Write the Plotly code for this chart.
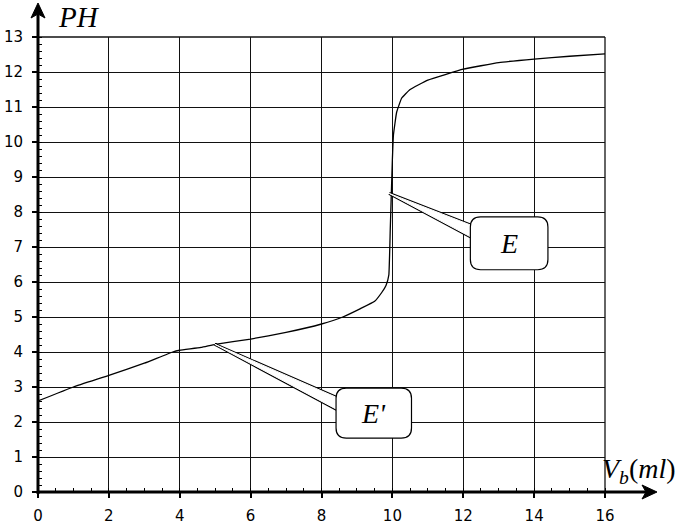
import plotly.graph_objects as go

# ---- data ----
vb = [0, 1, 2, 3, 3.8, 4.0, 4.6, 5, 6, 7, 8, 8.6, 9.1, 9.5, 9.7, 9.82, 9.9,
      9.94, 9.97, 10.0, 10.03, 10.12, 10.26, 10.5, 11.0, 12.0, 13.0, 14.0, 15.0, 16.0]
ph = [2.6, 3.0, 3.33, 3.68, 4.0, 4.05, 4.13, 4.22, 4.37, 4.56, 4.8, 5.0, 5.24, 5.45, 5.7,
      5.9, 6.2, 7.5, 8.5, 9.5, 10.2, 10.85, 11.25, 11.5, 11.77, 12.08, 12.27, 12.37, 12.45, 12.52]
x_ticks = [0, 2, 4, 6, 8, 10, 12, 14, 16]
y_ticks = list(range(0, 14))

# callouts: (label, tip, base1, base2, box x0, x1, y0, y1)
callouts = [
    ("E", (9.91, 8.53), (12.28, 7.6), (12.28, 7.25), 12.24, 14.35, 6.39, 7.82),
    ("E'", (4.99, 4.22), (8.43, 2.70), (8.43, 2.36), 8.45, 10.5, 1.58, 2.93),
]

L, R, T, B = 38, 87, 37, 36
W, H = 692, 528
pw, ph_px = W - L - R, H - T - B

fig = go.Figure()
fig.add_trace(go.Scatter(x=vb, y=ph, mode="lines", line_shape="spline",
                         line=dict(color="black", width=1.3, smoothing=0.3), hoverinfo="skip"))

shapes = []
annotations = []

def rrect(x0, x1, y0, y1, rx, ry):
    return (f"M {x0+rx},{y0} L {x1-rx},{y0} Q {x1},{y0} {x1},{y0+ry} "
            f"L {x1},{y1-ry} Q {x1},{y1} {x1-rx},{y1} L {x0+rx},{y1} "
            f"Q {x0},{y1} {x0},{y1-ry} L {x0},{y0+ry} Q {x0},{y0} {x0+rx},{y0} Z")

for lab, tip, b1, b2, x0, x1, y0, y1 in callouts:
    wedge = f"M {tip[0]},{tip[1]} L {b1[0]},{b1[1]} L {b2[0]},{b2[1]} Z"
    shapes.append(dict(type="path", path=wedge, xref="x", yref="y",
                       fillcolor="white", line=dict(color="black", width=3), layer="above"))
    shapes.append(dict(type="path", path=wedge, xref="x", yref="y",
                       fillcolor="white", line=dict(color="white", width=1), layer="above"))
    p = rrect(x0, x1, y0, y1, 0.25, 0.25)
    shapes.append(dict(type="path", path=p, xref="x", yref="y",
                       fillcolor="white", line=dict(color="black", width=4), layer="above"))
    shapes.append(dict(type="path", path=p, xref="x", yref="y",
                       fillcolor="white", line=dict(color="white", width=1.6), layer="above"))
    annotations.append(dict(x=(x0 + x1) / 2, y=(y0 + y1) / 2, xref="x", yref="y",
                            text=f"<i>{lab}</i>", showarrow=False,
                            font=dict(family="Liberation Serif", size=28, color="black")))

# frame lines (right and top)
shapes.append(dict(type="line", xref="paper", yref="paper", x0=1, x1=1, y0=0, y1=1,
                   line=dict(color="#111", width=1.3), layer="below"))
shapes.append(dict(type="line", xref="paper", yref="paper", x0=0, x1=1, y0=1, y1=1,
                   line=dict(color="#111", width=1.3), layer="below"))

def px(xp):
    return (xp - L) / pw

def py(yp):
    return (H - B - yp) / ph_px

# axis lines with arrows
shapes.append(dict(type="line", xref="paper", yref="paper", x0=0, x1=px(650), y0=0, y1=0,
                   line=dict(color="black", width=3), layer="above"))
shapes.append(dict(type="line", xref="paper", yref="paper", x0=0, x1=0, y0=py(H - B + 2), y1=py(10),
                   line=dict(color="black", width=3), layer="above"))
xa = f"M {px(657)},{py(492)} L {px(642)},{py(485)} L {px(646)},{py(492)} L {px(642)},{py(499)} Z"
ya = f"M {px(38)},{py(3)} L {px(31)},{py(18)} L {px(38)},{py(14)} L {px(45)},{py(18)} Z"
for a in (xa, ya):
    shapes.append(dict(type="path", path=a, xref="paper", yref="paper",
                       fillcolor="black", line=dict(color="black", width=1), layer="above"))

annotations.append(dict(x=px(56), y=py(17), xref="paper", yref="paper", xanchor="left",
                        yanchor="middle", text="<i>PH</i>", showarrow=False,
                        font=dict(family="Liberation Serif", size=29, color="black")))
annotations.append(dict(x=px(600), y=py(470), xref="paper", yref="paper", xanchor="left",
                        yanchor="middle", text="<i>V</i><sub><i>b</i></sub>(<i>ml</i>)",
                        showarrow=False,
                        font=dict(family="Liberation Serif", size=28, color="black")))

tickfont = dict(family="DejaVu Sans", size=15, color="black")
fig.update_layout(
    width=W, height=H, margin=dict(l=L, r=R, t=T, b=B, autoexpand=False), autosize=False,
    paper_bgcolor="white", plot_bgcolor="white", showlegend=False,
    shapes=shapes, annotations=annotations,
    xaxis=dict(range=[0, 16], tickvals=x_ticks, ticktext=[str(v) for v in x_ticks],
               showgrid=True, gridcolor="#111", gridwidth=1.3, zeroline=False, showline=False,
               ticks="outside", ticklen=5, tickwidth=2, tickcolor="black", tickfont=tickfont,
               ticklabelstandoff=5, automargin=False,
               minor=dict(dtick=0.5, tick0=0, ticks="inside", ticklen=4, tickwidth=1,
                          tickcolor="black", showgrid=False), fixedrange=True),
    yaxis=dict(range=[0, 13], tickvals=y_ticks, ticktext=[str(v) for v in y_ticks],
               showgrid=True, gridcolor="#111", gridwidth=1.3, zeroline=False, showline=False,
               ticks="outside", ticklen=5, tickwidth=2, tickcolor="black", tickfont=tickfont,
               ticklabelstandoff=6, automargin=False,
               minor=dict(dtick=0.2, tick0=0, ticks="inside", ticklen=4, tickwidth=1,
                          tickcolor="black", showgrid=False), fixedrange=True),
)

fig.write_html("out.html", config={"displayModeBar": False, "responsive": False},
               post_script="document.body.style.margin='0';document.body.style.overflow='hidden';")
